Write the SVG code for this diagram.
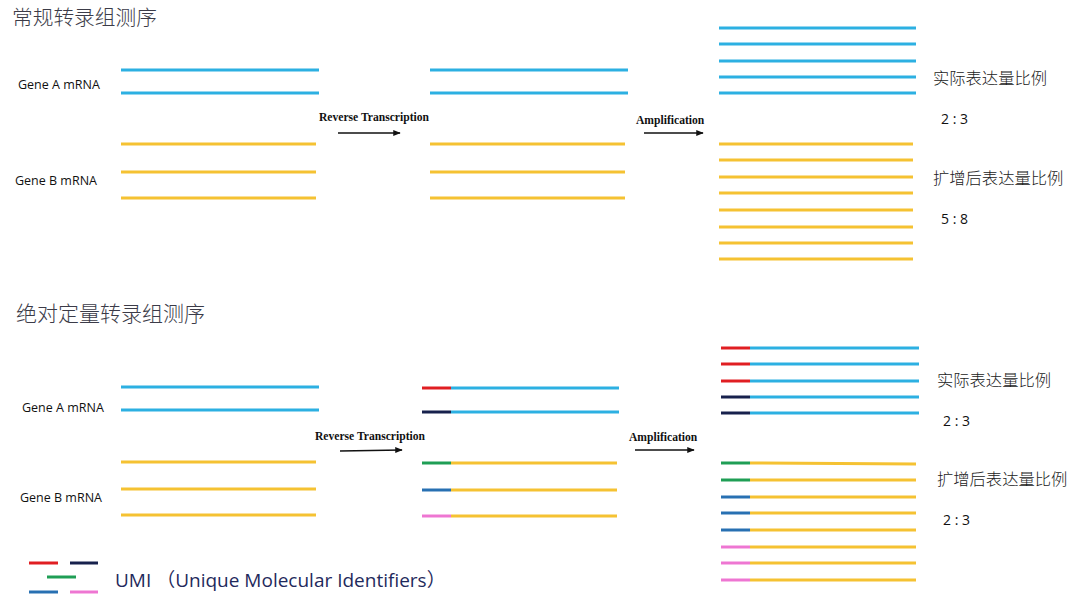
<svg xmlns="http://www.w3.org/2000/svg" width="1080" height="604" viewBox="0 0 1080 604">
<defs>
<style>
.b{stroke:#2cb0e2;stroke-width:3;fill:none}
.y{stroke:#f5c232;stroke-width:3;fill:none}
.r{stroke:#e01e22;stroke-width:3}
.n{stroke:#17214d;stroke-width:3}
.g{stroke:#1f9e55;stroke-width:3}
.u{stroke:#2870b2;stroke-width:3}
.p{stroke:#ee76d2;stroke-width:3}
.title{font-family:"Noto Sans CJK SC",sans-serif;font-weight:300;font-size:20.7px;fill:#3b3b48}
.lab{font-family:"Open Sans","Noto Sans",sans-serif;font-size:12.5px;fill:#111}
.step{font-family:"Liberation Serif",serif;font-weight:bold;font-size:11.6px;fill:#111}
.cn{font-family:"Noto Sans CJK SC",sans-serif;font-weight:300;font-size:16.3px;fill:#222}
.num{font-family:"Open Sans","Noto Sans",sans-serif;font-size:14px;fill:#111}
.arr{stroke:#111;stroke-width:1.5;fill:none}
</style>
<marker id="ah" viewBox="0 0 10 10" refX="9" refY="5" markerWidth="5" markerHeight="5" orient="auto" markerUnits="strokeWidth">
<path d="M0,1 L10,5 L0,9 z" fill="#111"/>
</marker>
</defs>
<rect width="1080" height="604" fill="#fff"/>

<g id="top-title"><text class="title" x="12" y="25">常规转录组测序</text></g>

<g id="top-geneA">
<text class="lab" x="18" y="89">Gene A mRNA</text>
<line class="b" x1="121" y1="70" x2="319" y2="70"/>
<line class="b" x1="121" y1="93" x2="319" y2="93"/>
</g>
<g id="top-geneB">
<text class="lab" x="15" y="185">Gene B mRNA</text>
<line class="y" x1="121" y1="144" x2="316" y2="144"/>
<line class="y" x1="121" y1="172" x2="316" y2="172"/>
<line class="y" x1="121" y1="198" x2="316" y2="198"/>
</g>
<g id="top-cdna">
<line class="b" x1="430" y1="70" x2="628" y2="70"/>
<line class="b" x1="430" y1="93" x2="628" y2="93"/>
<line class="y" x1="430" y1="144" x2="625" y2="144"/>
<line class="y" x1="430" y1="172" x2="625" y2="172"/>
<line class="y" x1="430" y1="198" x2="625" y2="198"/>
</g>
<g id="top-amplified">
<line class="b" x1="719" y1="28" x2="916" y2="28"/>
<line class="b" x1="719" y1="44" x2="916" y2="44"/>
<line class="b" x1="719" y1="61" x2="916" y2="61"/>
<line class="b" x1="719" y1="77" x2="916" y2="77"/>
<line class="b" x1="719" y1="93" x2="916" y2="93"/>
<line class="y" x1="719" y1="144" x2="913" y2="144"/>
<line class="y" x1="719" y1="160" x2="913" y2="160"/>
<line class="y" x1="719" y1="177" x2="913" y2="177"/>
<line class="y" x1="719" y1="193" x2="913" y2="193"/>
<line class="y" x1="719" y1="210" x2="913" y2="210"/>
<line class="y" x1="719" y1="227" x2="913" y2="227"/>
<line class="y" x1="719" y1="243" x2="913" y2="243"/>
<line class="y" x1="719" y1="259" x2="913" y2="259"/>
</g>
<g id="top-ratios">
<text class="cn" x="933" y="84">实际表达量比例</text>
<text class="num" x="941" y="124">2 : 3</text>
<text class="cn" x="933" y="184">扩增后表达量比例</text>
<text class="num" x="941" y="224">5 : 8</text>
</g>

<g id="bottom-title"><text class="title" x="16" y="321" style="font-size:21px">绝对定量转录组测序</text></g>

<g id="bottom-geneA">
<text class="lab" x="22" y="412">Gene A mRNA</text>
<line class="b" x1="121" y1="387" x2="319" y2="387"/>
<line class="b" x1="121" y1="410" x2="319" y2="410"/>
</g>
<g id="bottom-geneB">
<text class="lab" x="20" y="502">Gene  B mRNA</text>
<line class="y" x1="121" y1="462" x2="316" y2="462"/>
<line class="y" x1="121" y1="489" x2="316" y2="489"/>
<line class="y" x1="121" y1="515" x2="316" y2="515"/>
</g>
<g id="bottom-cdna">
<line class="b" x1="451" y1="388" x2="619" y2="388"/><line class="r" x1="422" y1="388" x2="451" y2="388"/>
<line class="b" x1="451" y1="412" x2="619" y2="412"/><line class="n" x1="422" y1="412" x2="451" y2="412"/>
<line class="y" x1="451" y1="463" x2="617" y2="463"/><line class="g" x1="422" y1="463" x2="451" y2="463"/>
<line class="y" x1="451" y1="490" x2="617" y2="490"/><line class="u" x1="422" y1="490" x2="451" y2="490"/>
<line class="y" x1="451" y1="516" x2="617" y2="516"/><line class="p" x1="422" y1="516" x2="451" y2="516"/>
</g>
<g id="bottom-amplified">
<line class="b" x1="750" y1="348" x2="919" y2="348"/><line class="r" x1="721" y1="348" x2="750" y2="348"/>
<line class="b" x1="750" y1="364" x2="919" y2="364"/><line class="r" x1="721" y1="364" x2="750" y2="364"/>
<line class="b" x1="750" y1="381" x2="919" y2="381"/><line class="r" x1="721" y1="381" x2="750" y2="381"/>
<line class="b" x1="750" y1="397" x2="919" y2="397"/><line class="n" x1="721" y1="397" x2="750" y2="397"/>
<line class="b" x1="750" y1="413" x2="919" y2="413"/><line class="n" x1="721" y1="413" x2="750" y2="413"/>
<line class="y" x1="750" y1="463" x2="916" y2="464"/><line class="g" x1="721" y1="463" x2="750" y2="463"/>
<line class="y" x1="750" y1="480" x2="916" y2="480"/><line class="g" x1="721" y1="480" x2="750" y2="480"/>
<line class="y" x1="750" y1="497" x2="916" y2="497"/><line class="u" x1="721" y1="497" x2="750" y2="497"/>
<line class="y" x1="750" y1="513" x2="916" y2="513"/><line class="u" x1="721" y1="513" x2="750" y2="513"/>
<line class="y" x1="750" y1="530" x2="916" y2="530"/><line class="u" x1="721" y1="530" x2="750" y2="530"/>
<line class="y" x1="750" y1="547" x2="916" y2="547"/><line class="p" x1="721" y1="547" x2="750" y2="547"/>
<line class="y" x1="750" y1="563" x2="916" y2="563"/><line class="p" x1="721" y1="563" x2="750" y2="563"/>
<line class="y" x1="750" y1="580" x2="916" y2="580"/><line class="p" x1="721" y1="580" x2="750" y2="580"/>
</g>
<g id="bottom-ratios">
<text class="cn" x="937" y="386">实际表达量比例</text>
<text class="num" x="943" y="426">2 : 3</text>
<text class="cn" x="937" y="485">扩增后表达量比例</text>
<text class="num" x="943" y="525">2 : 3</text>
</g>

<g id="legend">
<line class="r" x1="29" y1="563" x2="58" y2="563"/>
<line class="n" x1="70" y1="563" x2="98" y2="563"/>
<line class="g" x1="47" y1="577" x2="76" y2="577"/>
<line class="u" x1="29" y1="592" x2="58" y2="592"/>
<line class="p" x1="70" y1="592" x2="98" y2="592"/>
<text x="115" y="587" style="font-family:'Open Sans','Noto Sans','Noto Sans CJK SC',sans-serif;font-size:19px;fill:#1f2a5c">UMI （Unique Molecular Identifiers）</text>
</g>

<g id="connectors">
<text class="step" x="319" y="121">Reverse Transcription</text>
<line class="arr" x1="338" y1="133" x2="400" y2="133" marker-end="url(#ah)"/>
<text class="step" x="636" y="124">Amplification</text>
<line class="arr" x1="644" y1="133" x2="703" y2="133" marker-end="url(#ah)"/>
<text class="step" x="315" y="440">Reverse Transcription</text>
<line class="arr" x1="340" y1="451" x2="402" y2="450" marker-end="url(#ah)"/>
<text class="step" x="629" y="441">Amplification</text>
<line class="arr" x1="635" y1="450" x2="694" y2="450" marker-end="url(#ah)"/>
</g>
</svg>
